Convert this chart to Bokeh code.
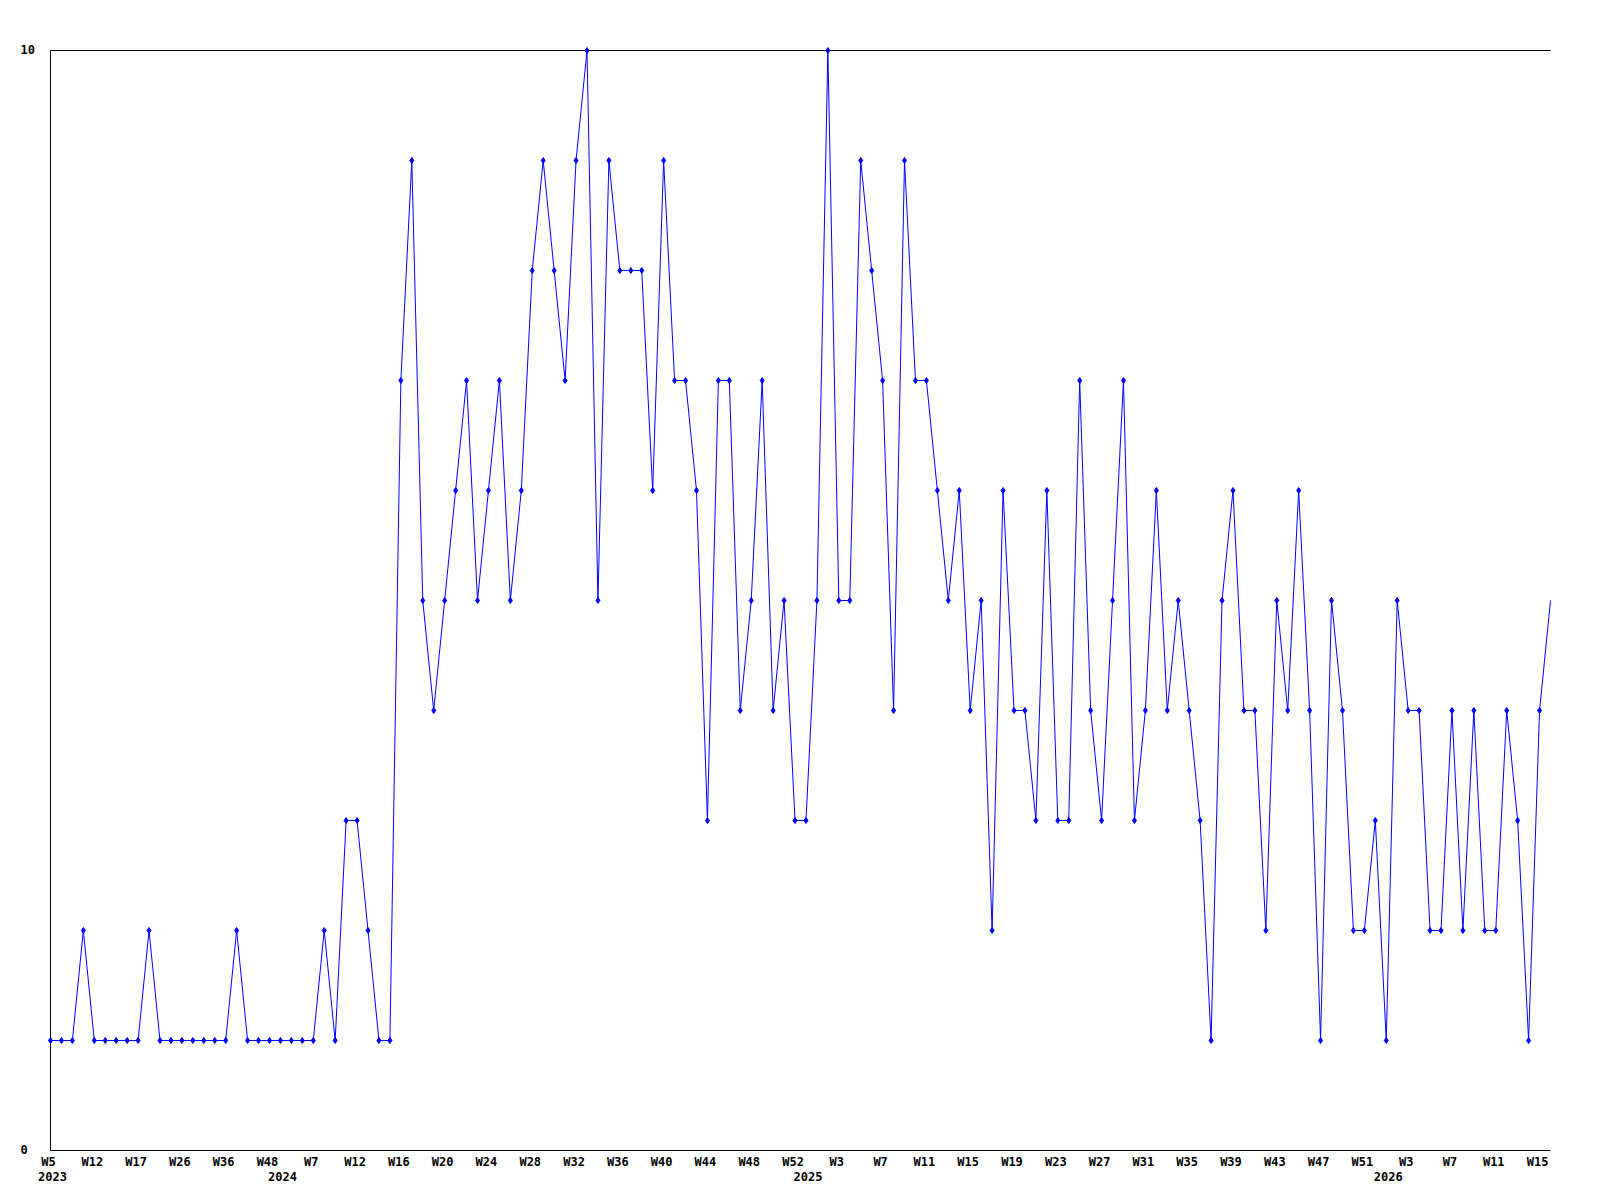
from bokeh.plotting import figure
from bokeh.models import ColumnDataSource, Range1d, CDSView, IndexFilter
from bokeh.core.properties import value as V
from bokeh.embed import file_html
from bokeh.resources import INLINE

# ---- data ----
values = [
    1, 1, 1, 2, 1, 1, 1, 1, 1, 2, 1, 1, 1, 1, 1, 1, 1, 2, 1, 1, 1, 1, 1, 1, 1, 2, 1,
    3, 3, 2, 1, 1, 7, 9, 5, 4, 5, 6, 7, 5, 6, 7, 5, 6, 8, 9,
    8, 7, 9, 10, 5, 9, 8, 8, 8, 6, 9, 7, 7, 6, 3, 7, 7, 4, 5, 7, 4, 5, 3,
    3, 5, 10, 5, 5, 9, 8, 7, 4, 9, 7, 7, 6, 5, 6, 4, 5, 2, 6, 4, 4, 3, 6,
    3, 3, 7, 4, 3, 5, 7, 3, 4, 6, 4, 5, 4, 3, 1, 5, 6, 4, 4, 2, 5, 4, 6,
    4, 1, 5, 4, 2, 2, 3, 1, 5, 4, 4, 2, 2, 4, 2, 4, 2, 2, 4, 3, 1, 4, 5,
]
week_labels = ["W5", "W12", "W17", "W26", "W36", "W48",
               "W7", "W12", "W16", "W20", "W24", "W28", "W32", "W36", "W40", "W44", "W48", "W52",
               "W3", "W7", "W11", "W15", "W19", "W23", "W27", "W31", "W35", "W39", "W43", "W47", "W51",
               "W3", "W7", "W11", "W15"]
week_label_step = 4
year_labels = ["2023", "2024", "2025", "2026"]
year_label_index = [0, 21, 69, 122]
y_tick_labels = ["0", "10"]
y_tick_values = [0, 10]

n = len(values)
x = list(range(n))
src = ColumnDataSource(dict(x=x, y=values))

FONT = "DejaVu Sans Mono"
FSIZE = "12px"

# canvas geometry (screen px): plot area 50..1550 x 50..1150
W, H = 1590, 1195
L, R, T, B = 50, 1550, 50, 1150
ymin, ymax = min(y_tick_values), max(y_tick_values)
xs = (n - 1) / (R - L)          # data per px in x
ys = (ymax - ymin) / (B - T)    # data per px in y

p = figure(output_backend="svg", toolbar_location=None,
           width=W, height=H, min_border=0,
           x_range=Range1d(-L * xs, (W - L) * xs),
           y_range=Range1d(ymin - (H - B) * ys, ymax + T * ys),
           x_axis_location=None, y_axis_location=None)
p.outline_line_color = None
p.xgrid.visible = False
p.ygrid.visible = False
p.background_fill_color = "white"
p.border_fill_color = "white"

# axis frame: left, bottom, top (no right border)
p.segment(x0=[0, 0, 0], y0=[ymin, ymin, ymax], x1=[0, n - 1, n - 1], y1=[ymax, ymin, ymax],
          line_color="black", line_width=1)

# data line and markers
p.line("x", "y", source=src, line_color="#0000ff", line_width=1)
p.scatter("x", "y", source=src, view=CDSView(filter=IndexFilter(list(range(n - 1)))),
          marker="diamond", size=6, fill_color="#0000ff", line_color="#0000ff")

common = dict(text_font=V(FONT), text_font_style="bold", text_font_size=FSIZE,
              text_color="black", text_baseline="middle")

# week tick labels
tick_pos = [i * week_label_step - 2 * xs for i in range(len(week_labels))]
p.text(x=tick_pos, y=[ymin - 11 * ys] * len(tick_pos), text=week_labels,
       text_align="center", **common)

# year labels
p.text(x=[i + 2 * xs for i in year_label_index], y=[ymin - 25.5 * ys] * len(year_labels),
       text=year_labels, text_align="center", **common)

# y labels, left aligned
p.text(x=[-30 * xs] * len(y_tick_labels), y=[v + 1 * ys for v in y_tick_values],
       text=y_tick_labels, text_align="left", **common)

open("out.html", "w").write(file_html(p, INLINE))
